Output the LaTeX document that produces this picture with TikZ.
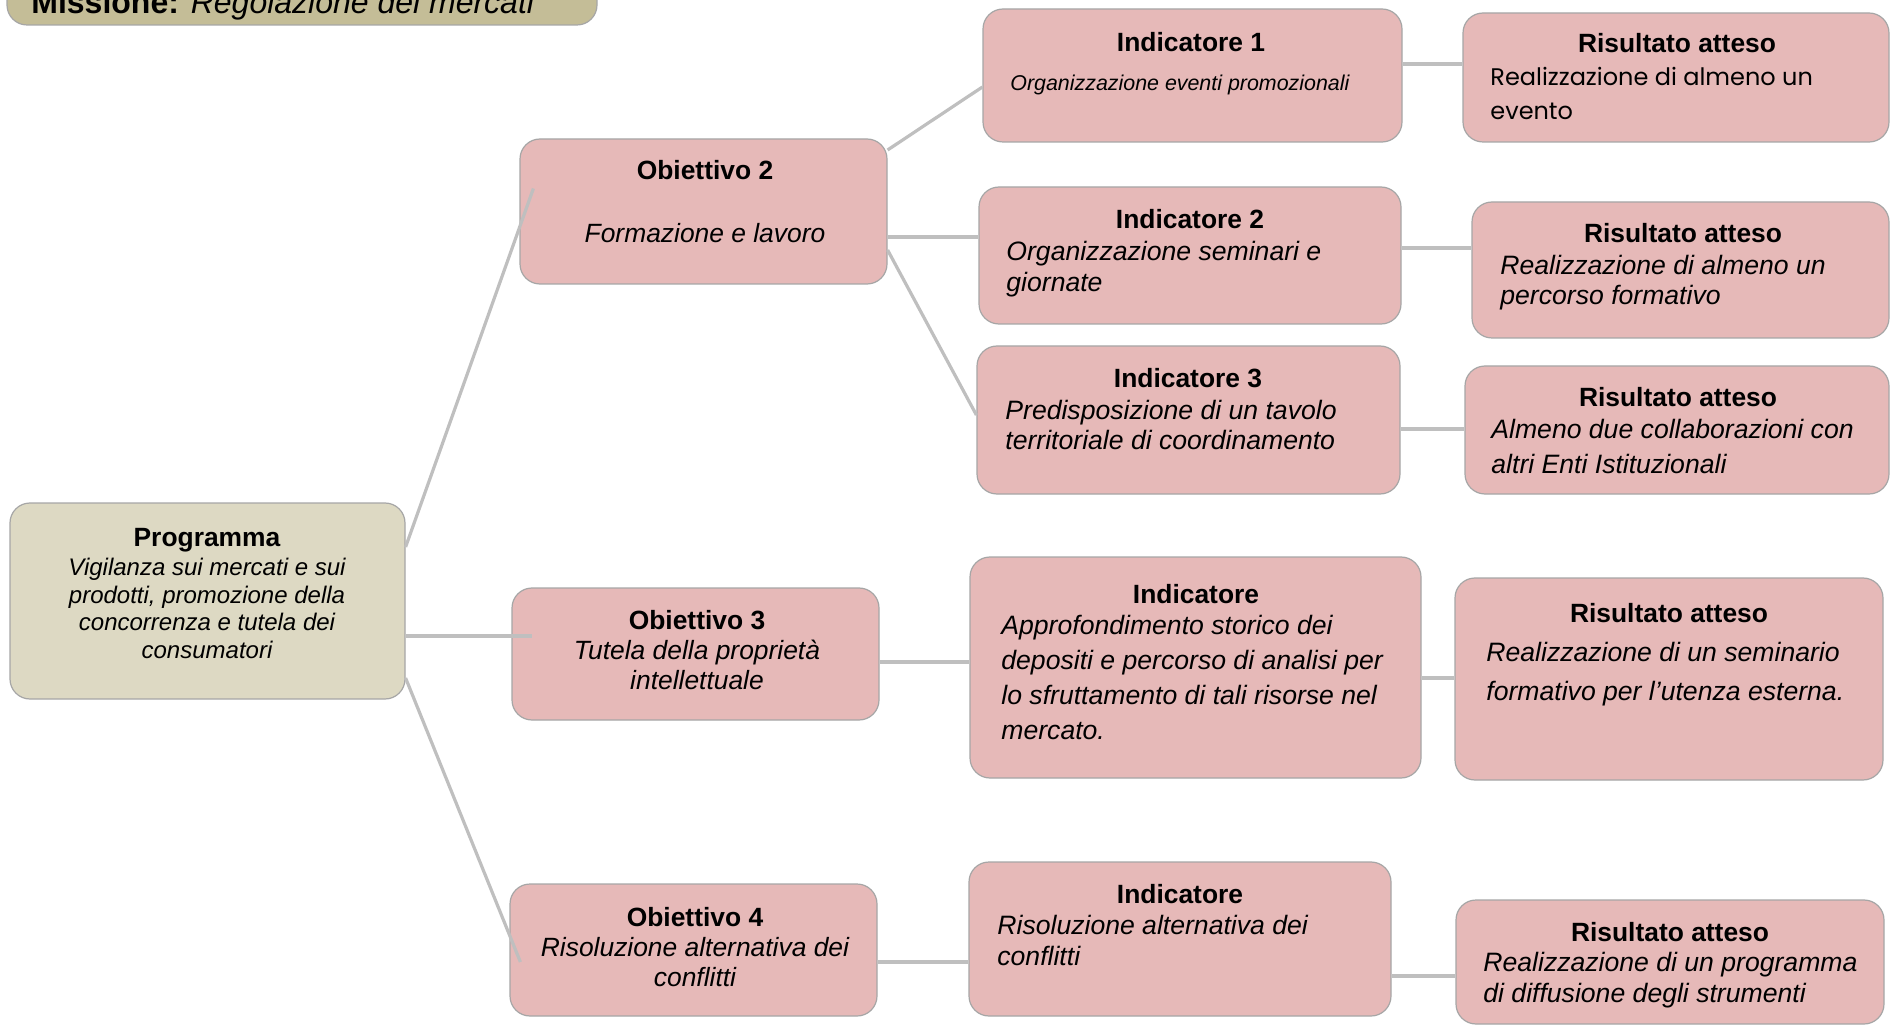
\documentclass[tikz,border=0pt]{standalone}
\usepackage{fontspec}
\setmainfont{Liberation Sans}
\newfontfamily\gothic{Poppins}
\usetikzlibrary{fit}
\definecolor{pinkfill}{HTML}{E6B9B8}
\definecolor{progfill}{HTML}{DDD9C3}
\definecolor{missfill}{HTML}{C4BD97}
\definecolor{boxline}{HTML}{A6A6A6}
\definecolor{connline}{HTML}{BFBFBF}
\begin{document}
\begin{tikzpicture}[x=0.5pt,y=-0.5pt,
  box/.style={draw=boxline, line width=0.6pt, rounded corners=10pt, inner sep=0pt, fill=pinkfill},
  conn/.style={draw=connline, line width=1.6pt},
  ttl/.style={inner sep=0pt, anchor=mid, font=\fontsize{13.2}{15}\selectfont\bfseries},
  txt/.style={inner sep=0pt, anchor=mid west, font=\fontsize{13.3}{15}\selectfont\itshape},
  ctxt/.style={inner sep=0pt, anchor=mid, font=\fontsize{13.2}{15}\selectfont\itshape},
  ptxt/.style={inner sep=0pt, anchor=mid, font=\fontsize{12}{14}\selectfont\itshape},
]
\useasboundingbox (0,0) rectangle (1892,1027);

% boxes
\node[box, fill=missfill, fit={(7,-40) (597,25)}] (miss) {};
\node[box, fill=progfill, fit={(10,503) (405,699)}] (prog) {};
\node[box, fit={(520,139) (887,284)}] (obj2) {};
\node[box, fit={(512,588) (879,720)}] (obj3) {};
\node[box, fit={(510,884) (877,1016)}] (obj4) {};
\node[box, fit={(983,9) (1402,142)}] (ind1) {};
\node[box, fit={(979,187) (1401,324)}] (ind2) {};
\node[box, fit={(977,346) (1400,494)}] (ind3) {};
\node[box, fit={(970,557) (1421,778)}] (indA) {};
\node[box, fit={(969,862) (1391,1016)}] (indB) {};
\node[box, fit={(1463,13) (1889,142)}] (ris1) {};
\node[box, fit={(1472,202) (1889,338)}] (ris2) {};
\node[box, fit={(1465,366) (1889,494)}] (ris3) {};
\node[box, fit={(1455,578) (1883,780)}] (risA) {};
\node[box, fit={(1456,900) (1884,1024)}] (risB) {};

% connectors
\draw[conn] ([yshift=27pt]prog.east) -- ([xshift=7pt,yshift=11.5pt]obj2.west);
\draw[conn] ([yshift=-17.5pt]prog.east) -- ([xshift=10.5pt,yshift=9pt]obj3.west);
\draw[conn] ([yshift=-38.5pt]prog.east) -- ([xshift=5.5pt,yshift=-6pt]obj4.west);
\draw[conn] ([yshift=30.75pt]obj2.east) -- ([yshift=-5.75pt]ind1.west);
\draw[conn] ([yshift=-12.75pt]obj2.east) -- ([yshift=9.25pt]ind2.west);
\draw[conn] ([yshift=-19.25pt]obj2.east) -- ([yshift=2.5pt]ind3.west);
\draw[conn] ([yshift=5.75pt]ind1.east) -- ([yshift=6.75pt]ris1.west);
\draw[conn] ([yshift=3.75pt]ind2.east) -- ([yshift=11pt]ris2.west);
\draw[conn] ([yshift=-4.5pt]ind3.east) -- ([yshift=0.5pt]ris3.west);
\draw[conn] ([yshift=-4pt]obj3.east) -- ([yshift=2.75pt]indA.west);
\draw[conn] ([yshift=-5.25pt]indA.east) -- ([yshift=0.5pt]risA.west);
\draw[conn] ([yshift=-6pt]obj4.east) -- ([yshift=-11.5pt]indB.west);
\draw[conn] ([yshift=-18.5pt]indB.east) -- ([yshift=-7pt]risB.west);

% Missione
\node[inner sep=0pt, anchor=base west, font=\fontsize{16}{18}\selectfont] (tmiss) at (31,14) {\textbf{Missione:} \textit{Regolazione dei mercati}};

\begin{scope}[yshift=-2pt]
% Programma
\node[ttl] (tprog) at (207,537) {Programma};
\node[ptxt] (tprog1) at (207,566) {Vigilanza sui mercati e sui};
\node[ptxt] (tprog2) at (207,594) {prodotti, promozione della};
\node[ptxt] (tprog3) at (207,621) {concorrenza e tutela dei};
\node[ptxt] (tprog4) at (207,649) {consumatori};

% Obiettivi
\node[ttl] (tobj2) at (705,170) {Obiettivo 2};
\node[ctxt] (tobj2a) at (705,233) {Formazione e lavoro};
\node[ttl] (tobj3) at (697,620) {Obiettivo 3};
\node[ctxt] (tobj3a) at (697,650) {Tutela della propriet\`a};
\node[ctxt] (tobj3b) at (697,680) {intellettuale};
\node[ttl] (tobj4) at (695,917) {Obiettivo 4};
\node[ctxt] (tobj4a) at (695,947) {Risoluzione alternativa dei};
\node[ctxt] (tobj4b) at (695,977) {conflitti};

% Indicatori
\node[ttl] (tind1) at (1191,42) {Indicatore 1};
\node[txt, font=\fontsize{10.7}{13}\selectfont\itshape] (tind1a) at (1010,81) {Organizzazione eventi promozionali};
\node[ttl] (tind2) at (1190,219) {Indicatore 2};
\node[txt] (tind2a) at (1006,251) {Organizzazione seminari e};
\node[txt] (tind2b) at (1006,282) {giornate};
\node[ttl] (tind3) at (1188,378) {Indicatore 3};
\node[txt] (tind3a) at (1005,410) {Predisposizione di un tavolo};
\node[txt] (tind3b) at (1005,440) {territoriale di coordinamento};
\node[ttl] (tindA) at (1196,594) {Indicatore};
\node[txt] (tindAa) at (1001,625) {Approfondimento storico dei};
\node[txt] (tindAb) at (1001,660) {depositi e percorso di analisi per};
\node[txt] (tindAc) at (1001,695) {lo sfruttamento di tali risorse nel};
\node[txt] (tindAd) at (1001,730) {mercato.};
\node[ttl] (tindB) at (1180,894) {Indicatore};
\node[txt] (tindBa) at (997,925) {Risoluzione alternativa dei};
\node[txt] (tindBb) at (997,956) {conflitti};

% Risultati
\node[ttl] (tris1) at (1677,43) {Risultato atteso};
\node[inner sep=0pt, anchor=mid west, font=\fontsize{12}{14}\selectfont\gothic] (tris1a) at (1490,76) {Realizzazione di almeno un};
\node[inner sep=0pt, anchor=mid west, font=\fontsize{12}{14}\selectfont\gothic] (tris1b) at (1490,110) {evento};
\node[ttl] (tris2) at (1683,233) {Risultato atteso};
\node[txt] (tris2a) at (1500,265) {Realizzazione di almeno un};
\node[txt] (tris2b) at (1500,295) {percorso formativo};
\node[ttl] (tris3) at (1678,397) {Risultato atteso};
\node[txt] (tris3a) at (1491,429) {Almeno due collaborazioni con};
\node[txt] (tris3b) at (1491,464) {altri Enti Istituzionali};
\node[ttl] (trisA) at (1669,613) {Risultato atteso};
\node[txt] (trisAa) at (1486,652) {Realizzazione di un seminario};
\node[txt] (trisAb) at (1486,691) {formativo per l’utenza esterna.};
\node[ttl] (trisB) at (1670,932) {Risultato atteso};
\node[txt] (trisBa) at (1483,962) {Realizzazione di un programma};
\node[txt] (trisBb) at (1483,993) {di diffusione degli strumenti};
\end{scope}
\end{tikzpicture}
\end{document}
